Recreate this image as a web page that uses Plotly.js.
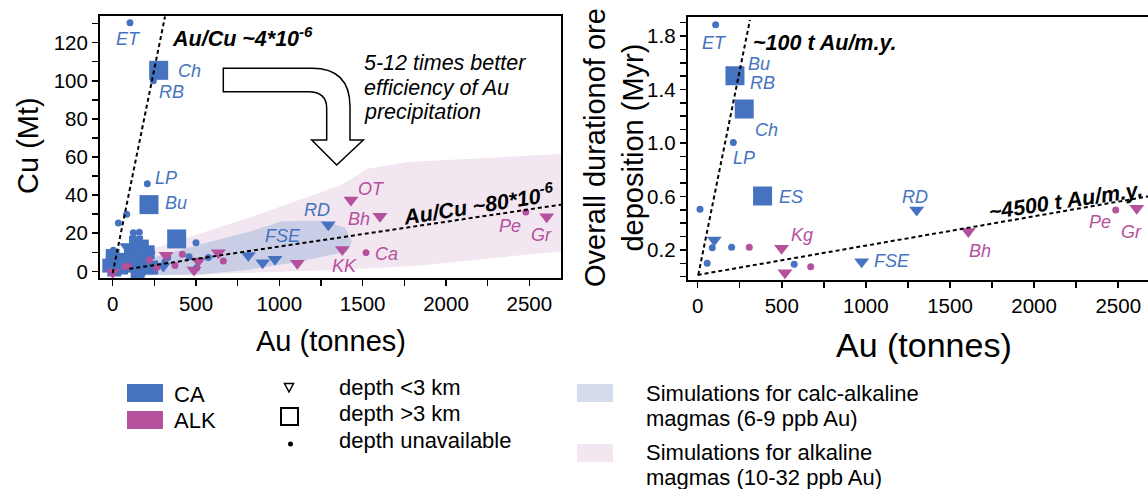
<!DOCTYPE html>
<html><head><meta charset="utf-8">
<script src="https://cdn.plot.ly/plotly-3.0.1.min.js"></script>
<style>html,body{margin:0;padding:0;background:#fff}#plot{width:1148px;height:489px}</style>
</head><body><div id="plot"></div>
<script>
// ---------- DATA (left panel: Cu (Mt) vs Au (t)) ----------
const caBigSqAu = [276, 218, 384];
const caBigSqCu = [105.5, 35, 17];
const caSqAu = [-20, 10, 30, 50, 0, 140, 175, 160, 190, 130, 210, 230, 150, 110, 60];
const caSqCu = [3, 1, 6, 2, 8, 15, 13, 8, 4, 3, 10, 2, 0, 10, 5];
const caDotAu = [104, 244, 208, 34, 84, 500, 574, 458, 504, 4, 124, 160, 234, 330, 314, 250];
const caDotCu = [130.5, 100, 46, 25.4, 30, 15, 7.2, 7.7, 1.9, 11, 20.2, 20.5, 9.8, 7.2, 5, 3];
const caTriAu = [1294, 814, 900, 974, 84, 304, 194, 120];
const caTriCu = [24.5, 8.3, 4.5, 6.3, 13, 2.8, 1, 5];
const alkTriAu = [0, 320, 488, 514, 634, 1108, 1378, 1430, 1604, 2604];
const alkTriCu = [-0.5, 8.4, 0.7, 5.4, 9.8, 4.2, 11.5, 37.5, 28.9, 28.6];
const alkDotAu = [74, 94, 220, 264, 374, 418, 664, 1520, 2479];
const alkDotCu = [2.5, 2.8, 6, 2, 3.1, 8.9, 5.4, 9.8, 31.2];

// simulation envelopes
const alkSimAu = [164, 224, 824, 1364, 1532, 1766, 2700, 2700, 1844, 1424, 524, 164];
const alkSimCu = [5, 11.5, 28.3, 45, 53.8, 57.4, 61.6, 10.6, 3.1, 1, -1.6, -2];
const caSimAu = [164, 524, 824, 1016, 1256, 1394, 1436, 1406, 1124, 824, 524, 164];
const caSimCu = [5.2, 14.1, 20.9, 26.3, 26.6, 23, 15.7, 10.4, 5.2, 1, -1.6, -2.1];

// ratio lines
const lineLowAu = [0, 314];
const lineLowCu = [-1, 133.7];
const lineHighAu = [100, 2690];
const lineHighCu = [1.3, 35];

// labels (left)
const leftLabels = ['ET','Ch','RB','LP','Bu','RD','FSE','KK','Ca','OT','Bh','Pe','Gr'];
const leftLabelGroup = ['CA','CA','CA','CA','CA','CA','CA','ALK','ALK','ALK','ALK','ALK','ALK'];
const leftLabelAu = [92, 459, 350, 320, 378, 1224, 1022, 1388, 1644, 1554, 1478, 2384, 2570];
const leftLabelCu = [122, 105, 94, 49, 36, 32.4, 18.4, 2.8, 8.9, 43, 27.7, 24, 19.3];

// ---------- DATA (right panel: duration (Myr) vs Au (t)) ----------
const rCaSqAu = [222, 277, 386];
const rCaSqD = [1.502, 1.255, 0.604];
const rCaDotAu = [107, 212, 14, 87, 202, 57, 574, 244];
const rCaDotD = [1.884, 1.003, 0.504, 0.217, 0.22, 0.1, 0.093, 1.49];
const rCaTriAu = [1302, 99, 975];
const rCaTriD = [0.499, 0.275, 0.112];
const rAlkDotAu = [307, 672, 2485];
const rAlkDotD = [0.22, 0.075, 0.499];
const rAlkTriAu = [499, 519, 1609, 2610];
const rAlkTriD = [0.212, 0.03, 0.337, 0.512];

const rLineSlowAu = [4, 311];
const rLineSlowD = [0.013, 1.92];
const rLineFastAu = [0, 2677];
const rLineFastD = [0.013, 0.6];

const rightLabels = ['ET','Bu','RB','Ch','LP','ES','RD','Kg','FSE','Bh','Pe','Gr'];
const rightLabelGroup = ['CA','CA','CA','CA','CA','CA','CA','ALK','CA','ALK','ALK','ALK'];
const rightLabelAu = [103, 367, 385, 411, 275, 553, 1292, 618, 1153, 1681, 2389, 2576];
const rightLabelD = [1.749, 1.592, 1.45, 1.098, 0.888, 0.599, 0.599, 0.312, 0.12, 0.194, 0.412, 0.331];

// ---------- STYLE ----------
const BLUE = '#4673c0', PINK = '#b5509d';
const PINKFILL = '#f2e6f1', BLUEFILL = '#c9cde6';
const FONT = 'Liberation Sans, Arial, Helvetica, sans-serif';
const W = 1148, H = 489;
const px = x => x / W, py = y => 1 - y / H;
const col = g => g === 'CA' ? BLUE : PINK;

function pts(ax, ay, sym, color, size, xa, ya) {
  return {x: ax, y: ay, xaxis: xa, yaxis: ya, type: 'scatter', mode: 'markers',
    marker: {symbol: sym, color: color, size: size, line: {width: 0}},
    hoverinfo: 'x+y', showlegend: false};
}
function dline(ax, ay, xa, ya) {
  return {x: ax, y: ay, xaxis: xa, yaxis: ya, type: 'scatter', mode: 'lines',
    line: {color: 'black', width: 2, dash: '4px,3px'}, showlegend: false, hoverinfo: 'skip'};
}
function region(ax, ay, color) {
  return {x: ax, y: ay, xaxis: 'x', yaxis: 'y', type: 'scatter', mode: 'lines', fill: 'toself',
    fillcolor: color, line: {width: 0, color: color}, showlegend: false, hoverinfo: 'skip'};
}

const traces = [
  region(alkSimAu, alkSimCu, PINKFILL),
  region(caSimAu, caSimCu, BLUEFILL),
  pts(caSqAu, caSqCu, 'square', BLUE, 14, 'x', 'y'),
  pts(caBigSqAu, caBigSqCu, 'square', BLUE, 19, 'x', 'y'),
  pts(caDotAu, caDotCu, 'circle', BLUE, 7, 'x', 'y'),
  pts(caTriAu, caTriCu, 'triangle-down', BLUE, 13, 'x', 'y'),
  pts(alkTriAu, alkTriCu, 'triangle-down', PINK, 13, 'x', 'y'),
  pts(alkDotAu, alkDotCu, 'circle', PINK, 7, 'x', 'y'),
  dline(lineLowAu, lineLowCu, 'x', 'y'),
  dline(lineHighAu, lineHighCu, 'x', 'y'),
  pts(rCaDotAu, rCaDotD, 'circle', BLUE, 7, 'x2', 'y2'),
  pts(rCaSqAu, rCaSqD, 'square', BLUE, 19, 'x2', 'y2'),
  pts(rCaTriAu, rCaTriD, 'triangle-down', BLUE, 13, 'x2', 'y2'),
  pts(rAlkDotAu, rAlkDotD, 'circle', PINK, 7, 'x2', 'y2'),
  pts(rAlkTriAu, rAlkTriD, 'triangle-down', PINK, 13, 'x2', 'y2'),
  dline(rLineSlowAu, rLineSlowD, 'x2', 'y2'),
  dline(rLineFastAu, rLineFastD, 'x2', 'y2')
];

const annotations = [];
leftLabels.forEach((t, i) => annotations.push({text: '<i>' + t + '</i>', x: leftLabelAu[i], y: leftLabelCu[i],
  xref: 'x', yref: 'y', xanchor: 'center', yanchor: 'middle', showarrow: false,
  font: {family: FONT, size: 18, color: col(leftLabelGroup[i])}}));
rightLabels.forEach((t, i) => annotations.push({text: '<i>' + t + '</i>', x: rightLabelAu[i], y: rightLabelD[i],
  xref: 'x2', yref: 'y2', xanchor: 'center', yanchor: 'middle', showarrow: false,
  font: {family: FONT, size: 18, color: col(rightLabelGroup[i])}}));

function pa(text, x, y, o) {
  return Object.assign({text: text, x: px(x), y: py(y), xref: 'paper', yref: 'paper', showarrow: false,
    xanchor: 'center', yanchor: 'middle',
    font: {family: FONT, size: 21.5, color: 'black'}}, o || {});
}
const LEG = {family: FONT, size: 22, color: 'black'};
// ratio annotations
annotations.push(pa('<b><i>Au/Cu ~4*10<sup>-6</sup></i></b>', 170, 37, {xanchor: 'left'}));
annotations.push(pa('<b><i>Au/Cu ~80*10<sup>-6</sup></i></b>', 478, 204, {textangle: -9}));
annotations.push(pa('<i>5-12 times better</i>', 362, 63, {xanchor: 'left'}));
annotations.push(pa('<i>efficiency of Au</i>', 362, 88, {xanchor: 'left'}));
annotations.push(pa('<i>precipitation</i>', 362, 112, {xanchor: 'left'}));
annotations.push(pa('<b><i>~100 t Au/m.y.</i></b>', 751, 43, {xanchor: 'left'}));
annotations.push(pa('<b><i>~4500 t Au/m.y.</i></b>', 1066, 201, {textangle: -8.5}));
// axis titles
annotations.push(pa('Cu (Mt)', 28, 146, {textangle: -90, font: {family: FONT, size: 29, color: 'black'}}));
annotations.push(pa('Au (tonnes)', 331, 341, {font: {family: FONT, size: 29, color: 'black'}}));
annotations.push(pa('Au (tonnes)', 924, 345, {font: {family: FONT, size: 34, color: 'black'}}));
annotations.push(pa('Overall durationof ore<br>deposition (Myr)', 614, 148, {textangle: -90,
  font: {family: FONT, size: 29, color: 'black'}}));
// legend text
annotations.push(pa('CA', 172, 394, {xanchor: 'left', font: LEG}));
annotations.push(pa('ALK', 172, 420, {xanchor: 'left', font: LEG}));
annotations.push(pa('depth &lt;3 km', 337, 387, {xanchor: 'left', font: LEG}));
annotations.push(pa('depth &gt;3 km', 337, 413, {xanchor: 'left', font: LEG}));
annotations.push(pa('depth unavailable', 337, 440, {xanchor: 'left', font: LEG}));
annotations.push(pa('Simulations for calc-alkaline', 644, 393, {xanchor: 'left', font: LEG}));
annotations.push(pa('magmas (6-9 ppb Au)', 644, 418, {xanchor: 'left', font: LEG}));
annotations.push(pa('Simulations for alkaline', 644, 452, {xanchor: 'left', font: LEG}));
annotations.push(pa('magmas (10-32 ppb Au)', 644, 477, {xanchor: 'left', font: LEG}));

function path(cmds) {
  return cmds.map(c => c[0] + ' ' + c.slice(1).map((v, k) => (k % 2 === 0 ? px(v) : py(v)).toFixed(5)).join(',')).join(' ') + ' Z';
}
const shapes = [
  // curved hollow arrow
  {type: 'path', xref: 'paper', yref: 'paper', fillcolor: 'white', line: {color: 'black', width: 1.5},
   path: path([['M', 223.3, 68.3], ['L', 312, 68.3], ['Q', 350, 68.3, 350, 106.7], ['L', 350, 140], ['L', 363.3, 140],
     ['L', 336.7, 165], ['L', 311.7, 140], ['L', 326.7, 140], ['L', 326.7, 108.3], ['Q', 326.7, 91.7, 308.3, 91.7],
     ['L', 223.3, 91.7]])},
  // legend swatches
  {type: 'rect', xref: 'paper', yref: 'paper', x0: px(127), x1: px(163), y0: py(384), y1: py(402), fillcolor: BLUE, line: {width: 0}},
  {type: 'rect', xref: 'paper', yref: 'paper', x0: px(127), x1: px(163), y0: py(411), y1: py(429), fillcolor: PINK, line: {width: 0}},
  {type: 'path', xref: 'paper', yref: 'paper', fillcolor: 'white', line: {color: 'black', width: 1.5},
   path: path([['M', 284.5, 383.5], ['L', 293.5, 383.5], ['L', 289, 392]])},
  {type: 'rect', xref: 'paper', yref: 'paper', x0: px(281), x1: px(298), y0: py(408), y1: py(425), fillcolor: 'white', line: {color: 'black', width: 2}},
  {type: 'circle', xref: 'paper', yref: 'paper', x0: px(288), x1: px(293), y0: py(441.5), y1: py(446.5), fillcolor: 'black', line: {width: 0}},
  {type: 'rect', xref: 'paper', yref: 'paper', x0: px(577), x1: px(613), y0: py(384), y1: py(402), fillcolor: '#d5daec', line: {width: 0}},
  {type: 'rect', xref: 'paper', yref: 'paper', x0: px(577), x1: px(613), y0: py(444), y1: py(462), fillcolor: PINKFILL, line: {width: 0}}
];

const tickfont = {family: FONT, size: 20.5, color: 'black'};
function axis(o) {
  return Object.assign({showline: true, linewidth: 2, linecolor: 'black', ticks: 'outside', ticklen: 6, tickwidth: 1.5,
    tickcolor: 'black', showgrid: false, zeroline: false, tickfont: tickfont, fixedrange: true}, o);
}
const layout = {
  width: W, height: H, margin: {l: 0, r: 0, t: 0, b: 0}, paper_bgcolor: 'white', plot_bgcolor: 'white',
  showlegend: false, font: {family: FONT},
  xaxis: axis({domain: [px(100), px(561)], range: [-76, 2690], anchor: 'y', mirror: true, tick0: 0, dtick: 500,
    minor: {dtick: 250, ticks: 'outside', ticklen: 6, tickwidth: 1.5, tickcolor: 'black', showgrid: false}}),
  yaxis: axis({domain: [py(278), py(16)], range: [-3.5, 134], anchor: 'x', mirror: true, tick0: 0, dtick: 20,
    minor: {dtick: 10, ticks: 'outside', ticklen: 6, tickwidth: 1.5, tickcolor: 'black', showgrid: false}}),
  xaxis2: axis({domain: [px(687.7), 1], range: [-59, 2677], anchor: 'y2', mirror: true, tick0: 0, dtick: 500,
    minor: {dtick: 250, ticks: 'outside', ticklen: 6, tickwidth: 1.5, tickcolor: 'black', showgrid: false}}),
  yaxis2: axis({domain: [py(280), py(17.3)], range: [-0.025, 1.94], anchor: 'x2', tick0: 0.2, dtick: 0.4,
    tickformat: '.1f',
    minor: {tick0: 0, dtick: 0.1, ticks: 'outside', ticklen: 6, tickwidth: 1.5, tickcolor: 'black', showgrid: false}}),
  annotations: annotations,
  shapes: shapes
};
Plotly.newPlot('plot', traces, layout, {displayModeBar: false, staticPlot: true});
</script>
</body></html>
